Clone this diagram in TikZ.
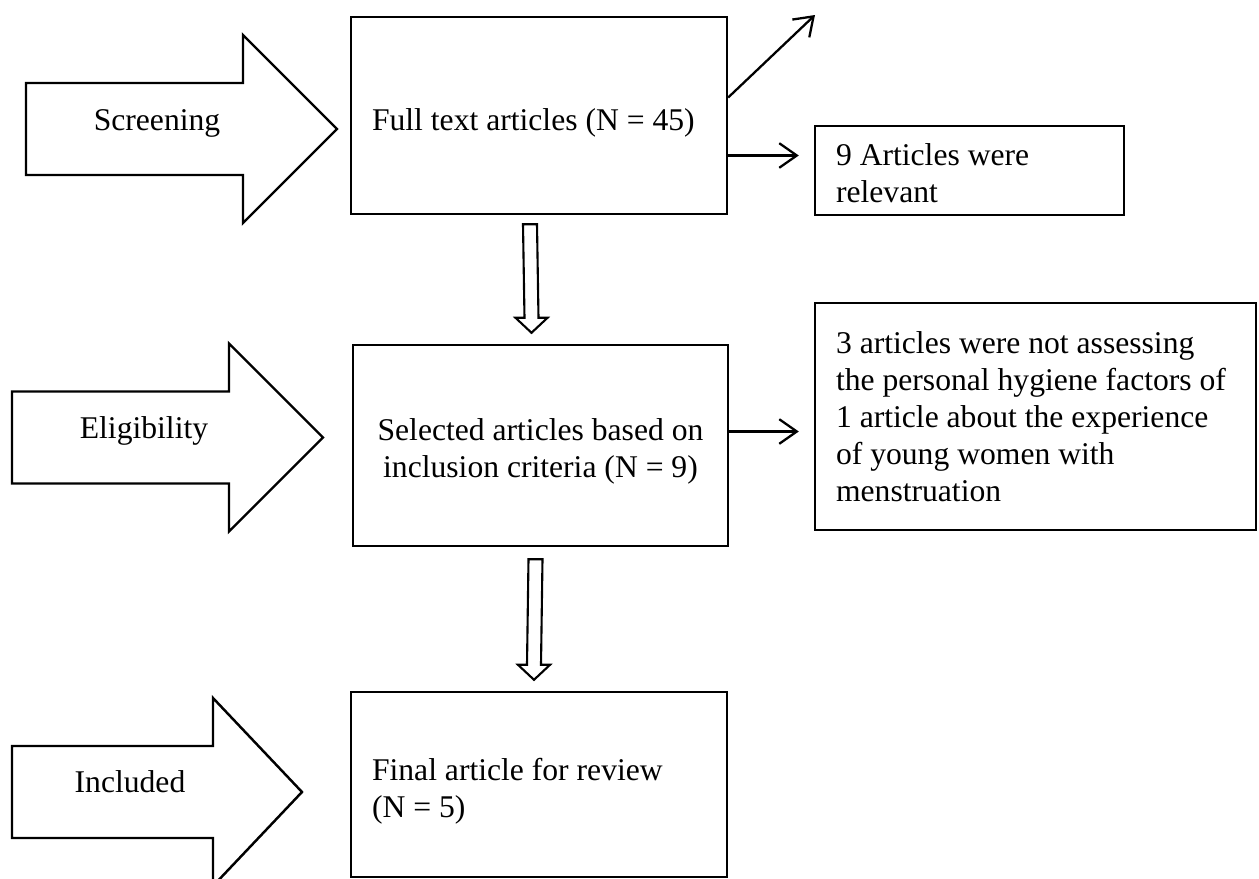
\documentclass[tikz,border=0pt]{standalone}
\usepackage{fontspec}
\setmainfont{Liberation Serif}
\usetikzlibrary{arrows.meta,calc}

\tikzset{
  stagebox/.style={draw,line width=1.4pt,inner xsep=0.42cm,align=flush left},
  lowtext/.style={execute at begin node={\rule{0pt}{#1}}},
  thinarrow/.style={draw,line width=1.3pt,-{Straight Barb[length=10pt,width=14pt,line width=1.3pt]}},
}

% big phase arrow: left x, head base x, tip x, middle y
\newcommand{\stagearrow}[4]{%
  \draw[line width=1.4pt] (#1,#4-46) -- (#2,#4-46) -- (#2,#4-94) -- (#3,#4)
    -- (#2,#4+94) -- (#2,#4+46) -- (#1,#4+46) -- cycle;}

% hollow arrow between two boxes
\newcommand{\hollowdown}[4]{%
  \coordinate (ha) at ($(#1.south)+(#3,#4)$);
  \coordinate (hb) at ($(#2.north)+(#3,-11)$);
  \draw[line width=1.2pt] ($(ha)+(-7,0)$) -- ($(hb)+(-7,-15)$) -- ($(hb)+(-16,-15)$)
    -- (hb) -- ($(hb)+(16,-15)$) -- ($(hb)+(7,-15)$) -- ($(ha)+(7,0)$) -- cycle;}

\begin{document}
\begin{tikzpicture}[x=0.02cm,y=-0.02cm,font=\fontsize{18}{21}\selectfont]
  \clip (0,0) rectangle (1259,879);

  % phases
  \stagearrow{26}{243}{337}{129}
  \stagearrow{12}{229}{323}{437.5}
  \stagearrow{12}{213}{302}{792}
  \begin{scope}[every node/.style={anchor=base}]
    \node (screen) at (157,130) {Screening};
    \node (elig) at (144,438) {Eligibility};
    \node (incl) at (130,792) {Included};
  \end{scope}

  % boxes
  \node[stagebox,lowtext=21pt,minimum width=7.52cm,minimum height=3.94cm,text width=6.68cm] (full) at (539,115.5)
    {Full text articles (N = 45)};
  \node[stagebox,lowtext=19pt,minimum width=7.5cm,minimum height=4.02cm,text width=6.66cm,align=flush center] (sel) at (540.5,445.5)
    {Selected articles based on\\inclusion criteria (N = 9)};
  \node[stagebox,lowtext=20pt,minimum width=7.52cm,minimum height=3.7cm,text width=6.68cm] (fin) at (539,784.5)
    {Final article for review\\(N = 5)};
  \node[stagebox,lowtext=16pt,minimum width=6.18cm,minimum height=1.78cm,text width=5.34cm] (relev) at (969.5,170.5)
    {9 Articles were\\relevant};
  \node[stagebox,minimum width=8.82cm,minimum height=4.54cm,text width=7.98cm] (excl) at (1035.5,416.5)
    {3 articles were not assessing\\the personal hygiene factors of\\1 article about the experience\\of young women with\\menstruation};

  % connectors
  \coordinate (up) at (815,15);
  \draw[thinarrow] ($(full.east)+(0,-18)$) -- (up);
  \draw[thinarrow,shorten >=0.3cm] ($(full.east)+(0,40)$) coordinate (fa) -- (fa -| relev.west);
  \draw[thinarrow,shorten >=0.3cm] ($(sel.east)+(0,-14)$) coordinate (sa) -- (sa -| excl.west);

  \hollowdown{full}{sel}{-9}{9}
  \hollowdown{sel}{fin}{-5}{12}
\end{tikzpicture}
\end{document}
